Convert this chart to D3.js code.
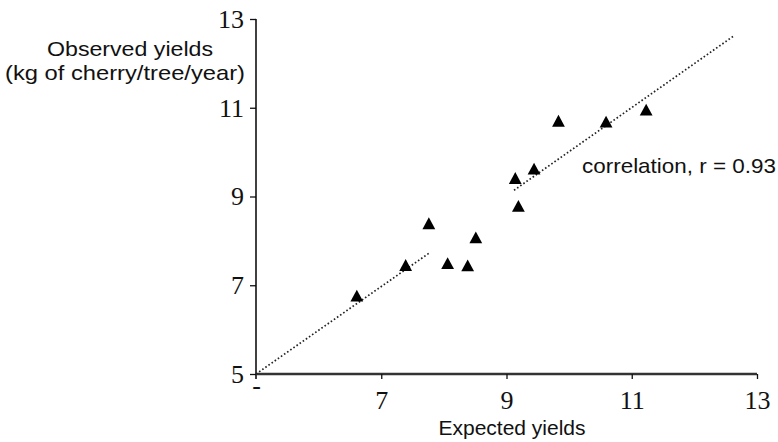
<!DOCTYPE html>
<html>
<head>
<meta charset="utf-8">
<script src="https://cdn.jsdelivr.net/npm/d3@7/dist/d3.min.js"></script>
<style>
  body { margin: 0; background: #fff; }
  svg { display: block; }
</style>
</head>
<body>
<svg id="chart" width="778" height="442"></svg>
<script>
// observed vs expected cherry yields
const expected = [6.61, 7.39, 7.76, 8.06, 8.38, 8.51, 9.14, 9.19, 9.44, 9.83, 10.59, 11.23]
const observed = [6.76, 7.45, 8.39, 7.49, 7.44, 8.07, 9.41, 8.78, 9.62, 10.70, 10.68, 10.95]

// the dotted 1:1 line is drawn in two pieces
const fitSegments = [
    [[5, 5], [7.78, 7.74]],
    [[9.12, 9.14], [12.62, 12.61]]
]

const xTicks = [5, 7, 9, 11, 13]
const xTickLabels = ['-', '7', '9', '11', '13']
const yTicks = [5, 7, 9, 11, 13]
const yTickLabels = ['5', '7', '9', '11', '13']

const svg = d3.select('#chart')

const x = d3.scaleLinear().domain([5, 13]).range([256, 757])
const y = d3.scaleLinear().domain([5, 13]).range([374, 19])

const serif = '"Liberation Serif", "Times New Roman", serif'
const sans = '"Liberation Sans", Arial, sans-serif'

// y axis
const yAxis = svg.append('g')
    .attr('transform', 'translate(' + x(5) + ',0)')
    .call(d3.axisLeft(y).tickValues(yTicks).tickSize(6).tickPadding(6)
        .tickFormat((d, i) => yTickLabels[i]))
yAxis.select('.domain').attr('d', 'M0,' + y(13) + 'V' + (y(5) + 5))
    .style('stroke', '#111').style('stroke-width', 1.6)
yAxis.selectAll('.tick line').style('stroke', '#111').style('stroke-width', 1.3)
yAxis.selectAll('.tick text')
    .style('font-family', serif)
    .style('font-size', '26px')
    .style('fill', '#111')

// x axis
const xAxis = svg.append('g')
    .attr('transform', 'translate(0,' + y(5) + ')')
    .call(d3.axisBottom(x).tickValues(xTicks).tickSize(5).tickPadding(12)
        .tickFormat((d, i) => xTickLabels[i]))
xAxis.select('.domain').attr('d', 'M' + x(5) + ',0H' + x(13))
    .style('stroke', '#333').style('stroke-width', 2.6)
xAxis.selectAll('.tick line').style('stroke', '#111').style('stroke-width', 1.3)
    .attr('y2', (d) => d == 5 ? 0 : 5)
xAxis.selectAll('.tick text')
    .style('font-family', serif)
    .style('font-size', '26px')
    .style('fill', '#111')
    .attr('dy', (d) => d == 5 ? '0.1em' : '0.68em')

// fit line
const line = d3.line().x(d => x(d[0])).y(d => y(d[1]))
svg.selectAll('.fit')
    .data(fitSegments)
    .enter()
    .append('path')
    .attr('class', 'fit')
    .attr('d', line)
    .style('fill', 'none')
    .style('stroke', '#222')
    .style('stroke-width', 1.7)
    .style('stroke-dasharray', '1.6,2.2')

// points as filled triangles
const tri = 'M0,-6.2L6.4,5.6L-6.4,5.6Z'
svg.selectAll('.pt')
    .data(expected.map((e, i) => [e, observed[i]]))
    .enter()
    .append('path')
    .attr('class', 'pt')
    .attr('d', tri)
    .attr('transform', d => 'translate(' + x(d[0]) + ',' + y(d[1]) + ')')
    .style('fill', '#000')

// labels
svg.append('text')
    .attr('x', 47)
    .attr('y', 56)
    .attr('textLength', 166)
    .attr('lengthAdjust', 'spacingAndGlyphs')
    .style('font-family', sans)
    .style('font-size', '21px')
    .style('fill', '#111')
    .text('Observed yields')

svg.append('text')
    .attr('x', 5)
    .attr('y', 80)
    .attr('textLength', 240)
    .attr('lengthAdjust', 'spacingAndGlyphs')
    .style('font-family', sans)
    .style('font-size', '21px')
    .style('fill', '#111')
    .text('(kg of cherry/tree/year)')

svg.append('text')
    .attr('x', 512)
    .attr('y', 435)
    .attr('text-anchor', 'middle')
    .style('font-family', sans)
    .style('font-size', '21px')
    .style('fill', '#111')
    .text('Expected yields')

svg.append('text')
    .attr('x', 582)
    .attr('y', 173)
    .attr('textLength', 194)
    .attr('lengthAdjust', 'spacingAndGlyphs')
    .style('font-family', sans)
    .style('font-size', '21px')
    .style('fill', '#111')
    .text('correlation, r = 0.93')
</script>
</body>
</html>
